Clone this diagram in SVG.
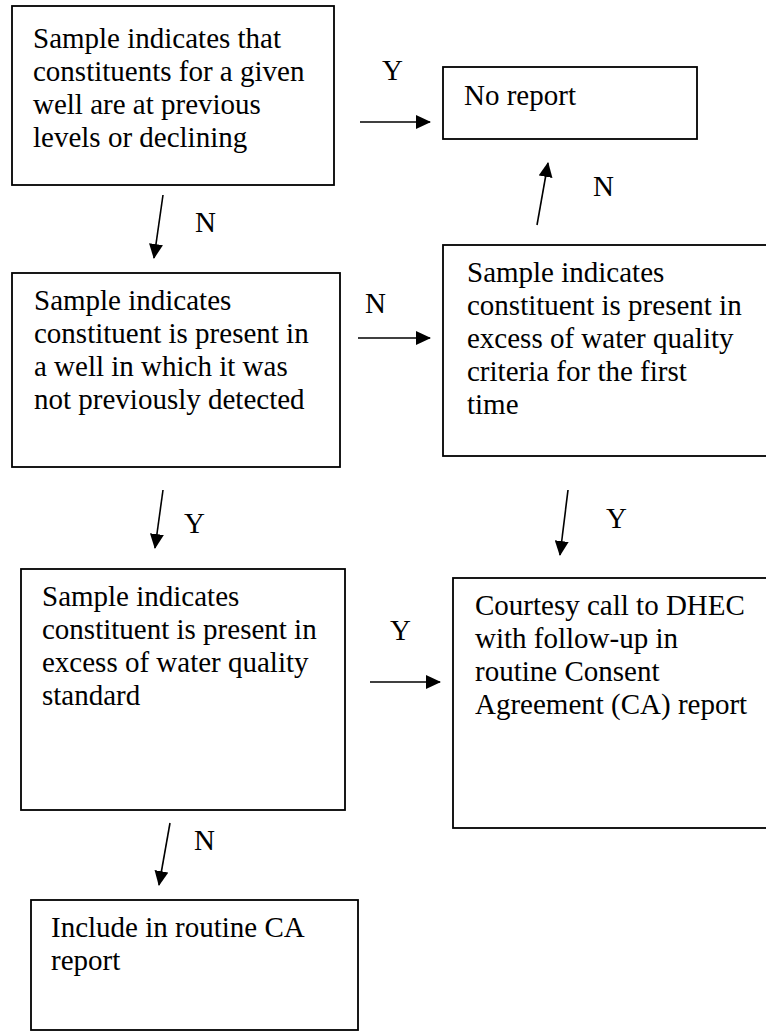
<svg xmlns="http://www.w3.org/2000/svg" width="766" height="1032" viewBox="0 0 766 1032">
<style>
.box{fill:#fff;stroke:#000;stroke-width:1.8}
text{font-family:"Liberation Serif","Times New Roman",serif;font-size:29px;fill:#000}
.c{stroke:#000;stroke-width:1.6;fill:none}
</style>
<defs>
<marker id="ah" viewBox="0 0 15 14" refX="14" refY="7" markerWidth="15" markerHeight="14" markerUnits="userSpaceOnUse" orient="auto"><path d="M0,0 L15,7 L0,14 z" fill="#000"/></marker>
</defs>
<rect width="766" height="1032" fill="#fff"/>
<g id="n1"><rect class="box" x="12" y="6" width="322" height="179"/>
<text x="33" y="48">Sample indicates that</text>
<text x="33" y="81">constituents for a given</text>
<text x="33" y="114">well are at previous</text>
<text x="33" y="147">levels or declining</text></g>
<g id="n2"><rect class="box" x="443" y="67" width="254" height="72"/>
<text x="464" y="105">No report</text></g>
<g id="n3"><rect class="box" x="12" y="273" width="328" height="194"/>
<text x="34" y="310">Sample indicates</text>
<text x="34" y="343">constituent is present in</text>
<text x="34" y="376">a well in which it was</text>
<text x="34" y="409">not previously detected</text></g>
<g id="n4"><rect class="box" x="443" y="245" width="340" height="211"/>
<text x="467" y="282">Sample indicates</text>
<text x="467" y="315">constituent is present in</text>
<text x="467" y="348">excess of water quality</text>
<text x="467" y="381">criteria for the first</text>
<text x="467" y="414">time</text></g>
<g id="n5"><rect class="box" x="21" y="569" width="324" height="241"/>
<text x="42" y="606">Sample indicates</text>
<text x="42" y="639">constituent is present in</text>
<text x="42" y="672">excess of water quality</text>
<text x="42" y="705">standard</text></g>
<g id="n6"><rect class="box" x="453" y="578" width="330" height="250"/>
<text x="475" y="615">Courtesy call to DHEC</text>
<text x="475" y="648">with follow-up in</text>
<text x="475" y="681">routine Consent</text>
<text x="475" y="714">Agreement (CA) report</text></g>
<g id="n7"><rect class="box" x="31" y="900" width="327" height="130"/>
<text x="51" y="937">Include in routine CA</text>
<text x="51" y="970">report</text></g>
<g id="connectors">
<line class="c" x1="360" y1="122" x2="430" y2="122" marker-end="url(#ah)"/>
<text x="382" y="80">Y</text>
<line class="c" x1="163" y1="195" x2="154" y2="258" marker-end="url(#ah)"/>
<text x="195" y="232">N</text>
<line class="c" x1="537" y1="225" x2="548" y2="163" marker-end="url(#ah)"/>
<text x="593" y="196">N</text>
<line class="c" x1="358" y1="338" x2="430" y2="338" marker-end="url(#ah)"/>
<text x="365" y="313">N</text>
<line class="c" x1="163" y1="490" x2="155" y2="548" marker-end="url(#ah)"/>
<text x="184" y="533">Y</text>
<line class="c" x1="568" y1="490" x2="560" y2="555" marker-end="url(#ah)"/>
<text x="606" y="528">Y</text>
<line class="c" x1="370" y1="682" x2="440" y2="682" marker-end="url(#ah)"/>
<text x="390" y="640">Y</text>
<line class="c" x1="170" y1="823" x2="159" y2="885" marker-end="url(#ah)"/>
<text x="194" y="850">N</text>
</g>
</svg>
